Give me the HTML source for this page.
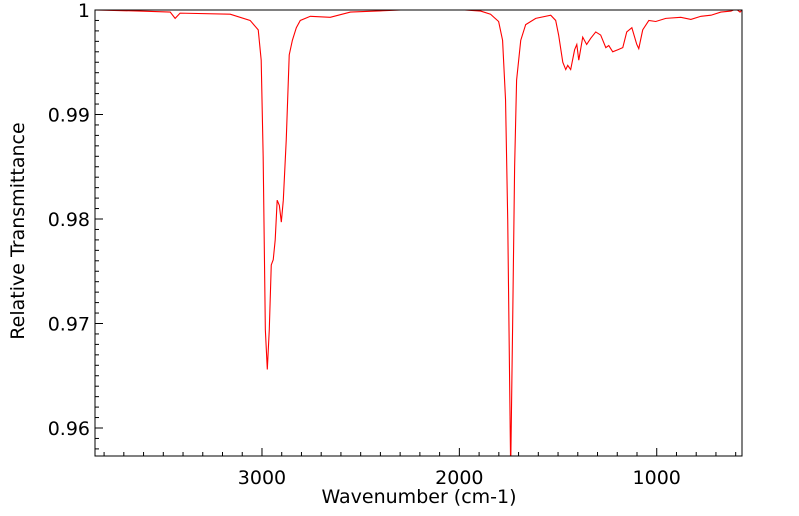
<!DOCTYPE html>
<html><head><meta charset="utf-8">
<style>
html,body{margin:0;padding:0;background:#fff;}
svg{display:block;font-family:"DejaVu Sans","Liberation Sans",sans-serif;}
</style></head>
<body>
<svg id="chart" width="799" height="516" viewBox="0 0 799 516" xmlns="http://www.w3.org/2000/svg">
<defs><clipPath id="plotclip"><rect x="95" y="10" width="647" height="446"/></clipPath></defs>
<g id="axes"></g>
<path id="spectrum" fill="none" stroke="#ff0000" stroke-width="1.1" clip-path="url(#plotclip)"/>
<rect x="95" y="10" width="647" height="446" fill="none" stroke="#000" stroke-width="1"/>
<text x="419" y="503" font-size="19" text-anchor="middle">Wavenumber (cm-1)</text>
<text x="24" y="231" font-size="19" text-anchor="middle" transform="rotate(-90 24 231)">Relative Transmittance</text>
</svg>
<script>
const wavenumbers = [3846,3618,3465,3440,3415,3161,3060,3019,3004,2994,2983,2973,2963,2953,2943,2933,2923,2912,2902,2892,2877,2862,2846,2826,2806,2755,2654,2552,2298,2045,1892,1842,1801,1781,1766,1755,1740,1730,1720,1710,1689,1664,1613,1537,1512,1497,1476,1461,1451,1436,1416,1405,1395,1375,1355,1334,1309,1284,1258,1243,1223,1197,1172,1152,1126,1101,1091,1071,1040,1005,954,878,827,776,725,675,624,598,578,568];
const transmittance = [1.0,0.9999,0.9998,0.9992,0.9997,0.9996,0.9990,0.9981,0.9952,0.9860,0.9694,0.9656,0.9694,0.9756,0.9761,0.9780,0.9818,0.9813,0.9797,0.9818,0.9876,0.9957,0.9971,0.9983,0.9990,0.9994,0.9993,0.9998,1.0,1.0001,0.9999,0.9996,0.9989,0.9971,0.9914,0.9800,0.9560,0.9700,0.9850,0.9933,0.9971,0.9986,0.9992,0.9995,0.9990,0.9976,0.9950,0.9943,0.9947,0.9943,0.9962,0.9967,0.9952,0.9974,0.9967,0.9973,0.9979,0.9976,0.9964,0.9966,0.9960,0.9962,0.9964,0.9979,0.9983,0.9967,0.9963,0.9981,0.9990,0.9989,0.9992,0.9993,0.9991,0.9994,0.9995,0.9998,0.9999,1.0001,0.9998,1.0];
const xTickValues = [3000,2000,1000];
const xTickLabels = ["3000","2000","1000"];
const yTickValues = [1.0,0.99,0.98,0.97,0.96];
const yTickLabels = ["1","0.99","0.98","0.97","0.96"];

const X0=95,X1=742,Y0=10,Y1=456;
const xMax=3846,xMin=568,yMax=1.0,yMin=0.95732;
function xs(v){return X0+(xMax-v)/(xMax-xMin)*(X1-X0);}
function ys(v){return Y0+(yMax-v)/(yMax-yMin)*(Y1-Y0);}
const NS="http://www.w3.org/2000/svg";
const axes=document.getElementById('axes');
function line(x1,y1,x2,y2,name){const l=document.createElementNS(NS,'line');l.setAttribute('x1',x1);l.setAttribute('y1',y1);l.setAttribute('x2',x2);l.setAttribute('y2',y2);l.setAttribute('stroke','#000');l.setAttribute('stroke-width','1');


axes.appendChild(l);}
function text(x,y,s,anchor,name){const t=document.createElementNS(NS,'text');t.setAttribute('x',x);t.setAttribute('y',y);t.setAttribute('font-size','19');t.setAttribute('text-anchor',anchor);t.textContent=s;


axes.appendChild(t);}
for(let w=600;w<=3800;w+=100){const x=xs(w);const major=w%1000===0;line(x,Y1,x,Y1-(major?8:4),'x-tick');}
xTickValues.forEach((v,i)=>text(xs(v),484,xTickLabels[i],'middle','x-tick-label'));
for(let k=0;k<=42;k++){const v=1-k*0.001;if(v<yMin)break;const y=ys(v);const major=k%10===0;line(X0,y,X0+(major?8:4),y,'y-tick');}
yTickValues.forEach((v,i)=>text(90,ys(v)+7,yTickLabels[i],'end','y-tick-label'));
let d='';
wavenumbers.forEach((w,i)=>{d+=(i?'L':'M')+xs(w).toFixed(2)+','+ys(transmittance[i]).toFixed(2);});
document.getElementById('spectrum').setAttribute('d',d);
</script>
</body></html>
